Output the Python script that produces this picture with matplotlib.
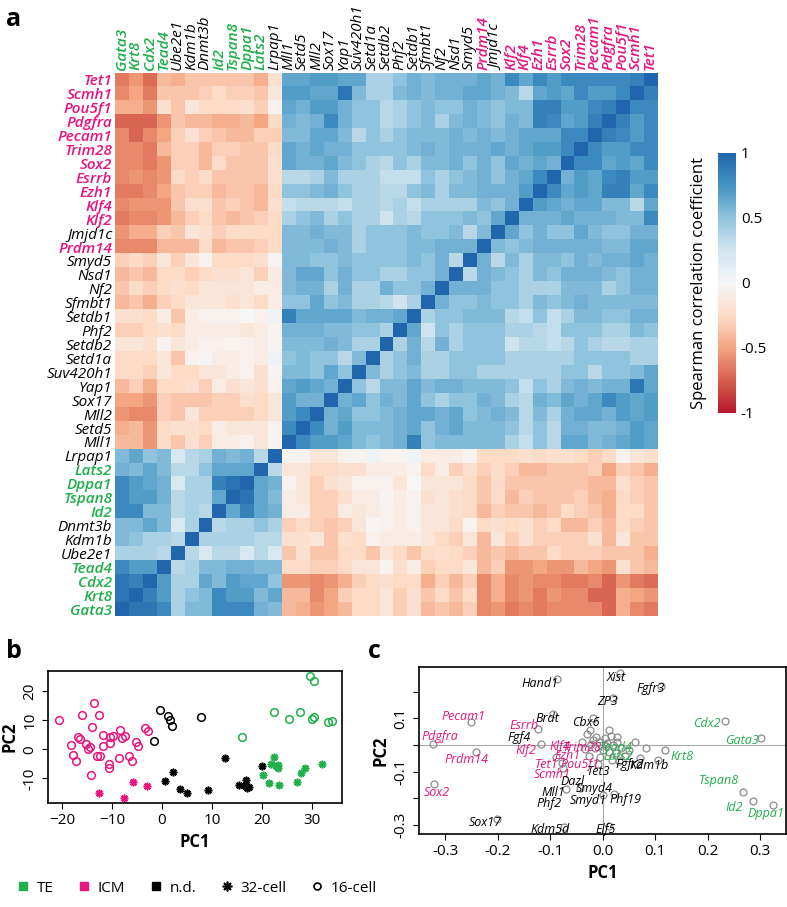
import numpy as np
import matplotlib.pyplot as plt
from matplotlib.lines import Line2D
from matplotlib.colors import LinearSegmentedColormap

plt.rcParams['font.family'] = ['Open Sans', 'DejaVu Sans']

GREEN = '#1faf4b'
PINK = '#e6157f'

# genes in column order (left to right); rows are the same genes bottom to top
genes = ['Gata3', 'Krt8', 'Cdx2', 'Tead4', 'Ube2e1', 'Kdm1b', 'Dnmt3b', 'Id2',
         'Tspan8', 'Dppa1', 'Lats2', 'Lrpap1', 'Mll1', 'Setd5', 'Mll2', 'Sox17',
         'Yap1', 'Suv420h1', 'Setd1a', 'Setdb2', 'Phf2', 'Setdb1', 'Sfmbt1', 'Nf2',
         'Nsd1', 'Smyd5', 'Prdm14', 'Jmjd1c', 'Klf2', 'Klf4', 'Ezh1', 'Esrrb',
         'Sox2', 'Trim28', 'Pecam1', 'Pdgfra', 'Pou5f1', 'Scmh1', 'Tet1']
te_genes = ['Gata3', 'Krt8', 'Cdx2', 'Tead4', 'Id2', 'Tspan8', 'Dppa1', 'Lats2']
icm_genes = ['Prdm14', 'Klf2', 'Klf4', 'Ezh1', 'Esrrb', 'Sox2', 'Trim28',
             'Pecam1', 'Pdgfra', 'Pou5f1', 'Scmh1', 'Tet1']

# correlations x100, TE group: gene i (Krt8..Lrpap1) vs genes before it
te_rows = [
    [90],
    [90, 85],
    [80, 70, 70],
    [40, 40, 40, 35],
    [55, 50, 40, 40, 35],
    [55, 55, 65, 55, 20, 40],
    [80, 80, 55, 55, 35, 40, 35],
    [80, 70, 70, 60, 35, 40, 40, 65],
    [80, 70, 65, 60, 20, 40, 40, 85, 92],
    [60, 55, 65, 55, 35, 35, 50, 65, 65, 65],
    [55, 65, 50, 55, 20, 35, 40, 60, 55, 60, 35],
]

# rows Tet1 .. Mll1 (top to bottom) vs Gata3 .. Lrpap1
cross_rows = [
    [-65, -55, -70, -40, -45, -35, -35, -35, -35, -35, -45, -20],
    [-60, -50, -65, -35, -35, -35, -30, -25, -30, -30, -35, -15],
    [-45, -45, -55, -20, -35, -15, -25, -25, -25, -20, -30, -5],
    [-72, -72, -72, -55, -35, -40, -40, -45, -45, -40, -50, -25],
    [-60, -72, -60, -50, -30, -20, -30, -35, -40, -40, -30, -30],
    [-60, -60, -65, -40, -30, -30, -40, -30, -30, -35, -35, -25],
    [-60, -60, -65, -55, -30, -30, -40, -25, -35, -35, -35, -20],
    [-60, -55, -60, -55, -25, -30, -25, -35, -35, -35, -35, -20],
    [-65, -65, -60, -50, -35, -30, -30, -40, -35, -35, -40, -25],
    [-60, -55, -55, -55, -35, -20, -20, -35, -30, -35, -40, -20],
    [-65, -60, -60, -55, -40, -30, -25, -35, -40, -35, -30, -25],
    [-55, -45, -45, -30, -35, -15, -20, -30, -25, -25, -25, -25],
    [-60, -60, -60, -40, -40, -40, -25, -40, -35, -35, -30, -25],
    [-30, -25, -30, -15, -30, -15, -5, -25, -25, -25, -20, -3],
    [-40, -35, -40, -25, -25, -30, -25, -20, -20, -15, -30, -10],
    [-35, -25, -30, -25, -20, -25, -15, -15, -15, -15, -10, -10],
    [-40, -35, -45, -30, -25, -15, -15, -15, -20, -15, -25, -10],
    [-20, -20, -25, -10, -35, -10, -5, -5, -5, 0, -5, 5],
    [-30, -30, -25, -20, -25, -10, -10, -10, -10, -15, -10, -3],
    [-15, -15, -20, -5, -15, -10, -5, -5, -3, -5, -10, -3],
    [-25, -25, -25, -15, -35, -5, -2, -10, -10, -5, -10, 5],
    [-25, -25, -30, -15, -25, -25, -15, -15, -10, -5, -20, -3],
    [-40, -30, -45, -25, -25, -20, -30, -10, -20, -15, -20, -5],
    [-50, -50, -55, -30, -35, -35, -35, -30, -30, -20, -25, -15],
    [-55, -60, -60, -30, -35, -15, -30, -30, -30, -30, -25, -15],
    [-45, -40, -55, -25, -20, -20, -25, -10, -15, -15, -15, -5],
    [-40, -40, -55, -25, -35, -20, -30, -10, -10, -5, -15, -3],
]

# rows Tet1 .. Setd5 (top to bottom) vs Mll1 .. gene left of the diagonal
icm_rows = [
    [65, 65, 70, 70, 65, 65, 40, 40, 50, 60, 55, 60, 60, 60, 65, 60, 80, 65, 80, 70, 80, 80, 80, 80, 80, 85],
    [70, 70, 65, 65, 90, 55, 40, 40, 55, 60, 55, 60, 60, 65, 65, 60, 55, 35, 65, 70, 65, 80, 70, 70, 80],
    [65, 60, 70, 70, 60, 50, 50, 35, 40, 50, 55, 50, 50, 60, 55, 50, 55, 55, 85, 85, 70, 70, 80, 85],
    [60, 55, 60, 80, 60, 50, 50, 35, 40, 50, 55, 40, 55, 60, 55, 50, 60, 55, 85, 80, 65, 70, 85],
    [55, 55, 65, 65, 55, 35, 50, 40, 50, 55, 55, 55, 60, 55, 60, 55, 60, 65, 65, 65, 80, 80],
    [65, 60, 65, 60, 60, 50, 50, 50, 50, 55, 60, 55, 60, 60, 60, 65, 60, 65, 70, 70, 80],
    [65, 60, 60, 65, 55, 50, 40, 35, 50, 40, 55, 55, 60, 50, 60, 50, 65, 60, 65, 60],
    [35, 35, 40, 55, 40, 40, 40, 30, 30, 30, 50, 40, 50, 55, 60, 50, 60, 65, 80],
    [50, 50, 55, 60, 50, 40, 40, 35, 35, 50, 55, 40, 55, 55, 60, 60, 60, 70],
    [30, 35, 35, 35, 30, 40, 40, 35, 40, 30, 40, 40, 40, 40, 55, 50, 60],
    [40, 50, 55, 40, 50, 40, 40, 25, 40, 35, 50, 50, 50, 55, 50, 65],
    [55, 55, 60, 55, 55, 40, 50, 50, 50, 55, 50, 50, 55, 35, 55],
    [55, 55, 55, 60, 55, 40, 50, 50, 50, 55, 55, 60, 60, 60],
    [55, 55, 50, 50, 55, 50, 50, 50, 50, 55, 50, 60, 35],
    [55, 65, 65, 50, 60, 50, 50, 40, 40, 50, 50, 60],
    [55, 60, 60, 40, 60, 40, 40, 60, 50, 50, 60],
    [50, 50, 65, 50, 55, 40, 40, 35, 25, 40],
    [85, 65, 65, 65, 65, 55, 60, 60, 65],
    [60, 60, 60, 55, 55, 50, 50, 40],
    [55, 55, 55, 60, 55, 40, 40],
    [50, 55, 50, 50, 35, 55],
    [55, 55, 50, 65, 50],
    [65, 70, 65, 60],
    [70, 60, 60],
    [70, 80],
    [80],
]

# panel b: PCA of single cells
icm16_x = [-20.6, -13.7, -16, -12.6, -14.1, -16.9, -16.5, -18.3, -15.3, -14.5, -14.8,
           -17.8, -17.3, -13, -12.5, -11.8, -11.9, -10.5, -9.8, -10.5, -8.5, -8.1, -7.5,
           -8.7, -10.7, -10.7, -6.6, -6.1, -14.3, -3.5, -2.9, -5.2, -4.9]
icm16_y = [10.1, 15.8, 12, 11.7, 7.7, 4.3, 3.4, 1.6, 1.7, 0.9, 0, -1.9, -4, -2.3,
           -2.3, 5.1, 1.1, 4.3, 4.6, 2.1, 6.5, 4, 4.5, -3.1, -5.1, -6.5, -2.3, -3.9,
           -8.8, 7.4, 6.2, 2.6, 1.1]
icm32_x = [-12.7, -7.6, -5.9, -3.1]
icm32_y = [-15.1, -16.9, -11.1, -12.8]
nd16_x = [-0.5, 1.1, 1.5, 1.9, 7.8, -1.7]
nd16_y = [13.6, 11.5, 10.1, 8.1, 11.2, 3.0]
nd32_x = [12.5, 2.1, 0.5, 3.5, 4.9, 9.1, 15.3, 16.7, 16.5, 17.0, 17.4, 19.9]
nd32_y = [-2.9, -7.9, -11.0, -13.7, -14.9, -14.2, -12.2, -10.5, -12.8, -13.4, -13.1, -5.7]
te16_x = [29.5, 30.4, 22.3, 25.3, 27.5, 29.9, 30.3, 33.1, 33.9, 15.9]
te16_y = [25.3, 23.5, 12.7, 10.6, 12.9, 10.6, 11.0, 9.3, 9.8, 4.3]
te32_x = [22.3, 21.7, 23.1, 23.2, 20.2, 21.3, 23.3, 26.9, 27.7, 28.5, 31.9, 22.7]
te32_y = [-2.7, -5.0, -5.4, -6.3, -9.0, -11.7, -12.2, -11.1, -8.2, -6.5, -5.0, -5.9]

# panel c: gene loadings
load_x = [-0.087, 0.033, 0.11, 0.019, -0.095, -0.018, -0.25, -0.123, -0.324, -0.118,
          -0.241, -0.321, -0.202, -0.089, -0.078, -0.076, -0.070, -0.073, 0.021, 0.011,
          0.233, 0.302, 0.119, 0.106, 0.268, 0.286, 0.324, 0.070, 0.082, 0.061,
          -0.024, 0.011, 0.027, 0.001, -0.043, -0.030, -0.012, 0.004, 0.015, 0.028,
          -0.040, -0.022, -0.008, 0.009, 0.020, 0.035, -0.034, -0.015, 0.000, 0.012,
          0.026, 0.042, -0.026, -0.005, 0.018, 0.030, -0.018, 0.006, 0.050, -0.010]
load_y = [0.246, 0.269, 0.221, 0.177, 0.116, 0.100, 0.085, 0.059, 0.004, 0.003,
          -0.027, -0.147, -0.277, -0.044, -0.069, -0.085, -0.165, -0.309, -0.184, -0.304,
          0.091, 0.027, -0.019, -0.056, -0.175, -0.212, -0.225, -0.050, -0.012, 0.012,
          0.056, 0.054, 0.031, -0.188, -0.161, 0.040, 0.030, 0.025, 0.035, 0.012,
          0.010, 0.005, 0.012, 0.008, 0.000, -0.010, -0.015, -0.012, -0.020, -0.025,
          -0.030, -0.040, -0.040, -0.045, -0.055, -0.060, 0.020, -0.005, -0.020, -0.070]
lab_names = ['Hand1', 'Pecam1', 'Pdgfra', 'Prdm14', 'Sox2', 'Sox17', 'Brdt', 'Esrrb',
             'Fgf4', 'Klf2', 'Klf4', 'Ezh1', 'Tet1', 'Pou5f1', 'Scmh1', 'Dazl', 'Mll1',
             'Phf2', 'Kdm5d', 'Smyd4', 'Smyd1', 'Phf19', 'Elf5', 'Tet3', 'Trim28',
             'Tead4', 'Lats2', 'Fgfr2', 'Kdm1b', 'Cbx6', 'Xist', 'Fgfr3', 'ZP3',
             'Cdx2', 'Gata3', 'Krt8', 'Tspan8', 'Id2', 'Dppa1']
lab_x = [-0.119, -0.265, -0.31, -0.26, -0.316, -0.224, -0.105, -0.15, -0.16, -0.146,
         -0.081, -0.068, -0.106, -0.043, -0.097, -0.058, -0.094, -0.103, -0.1, -0.017,
         -0.027, 0.043, 0.005, -0.008, -0.039, 0.024, 0.03, 0.052, 0.089, -0.033,
         0.026, 0.092, 0.008, 0.198, 0.265, 0.151, 0.221, 0.251, 0.31]
lab_y = [0.229, 0.106, 0.031, -0.056, -0.177, -0.291, 0.1, 0.071, 0.027, -0.021,
         -0.006, -0.041, -0.075, -0.075, -0.112, -0.138, -0.179, -0.219, -0.316, -0.162,
         -0.209, -0.206, -0.319, -0.1, -0.009, -0.009, -0.044, -0.075, -0.079, 0.085,
         0.251, 0.211, 0.162, 0.079, 0.016, -0.044, -0.134, -0.234, -0.256]

# ---- correlation matrix ----
n = len(genes)
M = np.eye(n)
for i, row in enumerate(te_rows):
    M[i + 1, :i + 1] = np.array(row) / 100
for r, row in enumerate(cross_rows):
    M[n - 1 - r, :12] = np.array(row) / 100
for r, row in enumerate(icm_rows):
    M[n - 1 - r, 12:12 + len(row)] = np.array(row) / 100
M = np.tril(M) + np.tril(M, -1).T

# 9-class RdBu (brewer), without the darkest ends
cmap = LinearSegmentedColormap.from_list(
    'rdbu9', ['#b2182b', '#d6604d', '#f4a582', '#fddbc7', '#f7f7f7',
              '#d1e5f0', '#92c5de', '#4393c3', '#2166ac'])


def gene_color(g):
    if g in te_genes:
        return GREEN
    if g in icm_genes:
        return PINK
    return 'black'


fig = plt.figure(figsize=(7.87, 9.07), dpi=100)

ax = fig.add_axes([0.1461, 0.3208, 0.6887, 0.5987])
im = ax.imshow(M[::-1, :], cmap=cmap, vmin=-1, vmax=1, aspect='auto',
               interpolation='nearest')
ax.set_xticks(range(n))
ax.set_xticklabels(genes, rotation=90)
ax.set_yticks(range(n))
ax.set_yticklabels(genes[::-1])
ax.xaxis.tick_top()
ax.tick_params(length=0, pad=2, labelsize=11)
for lbl in ax.get_xticklabels() + ax.get_yticklabels():
    c = gene_color(lbl.get_text())
    lbl.set_color(c)
    lbl.set_style('italic')
    if c != 'black':
        lbl.set_fontweight('semibold')
for s in ax.spines.values():
    s.set_visible(False)

cax = fig.add_axes([0.9123, 0.5447, 0.0229, 0.2867])
cb = fig.colorbar(im, cax=cax, ticks=[-1, -0.5, 0, 0.5, 1])
cb.ax.set_yticklabels(['-1', '-0.5', '0', '0.5', '1'])
cb.outline.set_visible(False)
cax.tick_params(length=0, labelsize=11)
cax.set_ylabel('Spearman correlation coefficient', fontsize=12, labelpad=8)
cax.yaxis.set_label_position('left')

# ---- panel b ----
axb = fig.add_axes([0.061, 0.1147, 0.3736, 0.1455])
mk = dict(linestyle='none', markersize=5.5)
axb.plot(icm16_x, icm16_y, marker='o', mfc='none', mec=PINK, mew=1.1, **mk)
axb.plot(nd16_x, nd16_y, marker='o', mfc='none', mec='black', mew=1.1, **mk)
axb.plot(te16_x, te16_y, marker='o', mfc='none', mec=GREEN, mew=1.1, **mk)
axb.plot(icm32_x, icm32_y, marker=(8, 2, 0), color=PINK, mew=1.2, **mk)
axb.plot(nd32_x, nd32_y, marker=(8, 2, 0), color='black', mew=1.2, **mk)
axb.plot(te32_x, te32_y, marker=(8, 2, 0), color=GREEN, mew=1.2, **mk)
axb.set_xlim(-22.8, 36)
axb.set_ylim(-18.5, 27)
axb.set_xticks([-20, -10, 0, 10, 20, 30])
axb.set_yticks([-10, 0, 10, 20])
axb.set_yticklabels(['-10', '0', '10', '20'], rotation=90, va='center')
axb.tick_params(labelsize=11, length=4)
axb.set_xlabel('PC1', fontsize=12, fontweight='bold', labelpad=3)
axb.set_ylabel('PC2', fontsize=12, fontweight='bold', labelpad=3)
for s in axb.spines.values():
    s.set_linewidth(1.2)

# ---- panel c ----
axc = fig.add_axes([0.5324, 0.0805, 0.4663, 0.1841])
axc.axhline(0, color='#aaaaaa', lw=0.8, zorder=0)
axc.axvline(0, color='#aaaaaa', lw=0.8, zorder=0)
axc.plot(load_x, load_y, linestyle='none', marker='o', mfc='none', mec='#8c8c8c',
         mew=0.9, markersize=5)
for name, x, y in zip(lab_names, lab_x, lab_y):
    axc.text(x, y, name, fontsize=9, style='italic', color=gene_color(name),
             ha='center', va='center')
axc.set_xlim(-0.35, 0.349)
axc.set_ylim(-0.334, 0.292)
axc.set_xticks([-0.3, -0.2, -0.1, 0.0, 0.1, 0.2, 0.3])
axc.set_xticklabels(['-0.3', '-0.2', '-0.1', '0.0', '0.1', '0.2', '0.3'])
axc.set_yticks([-0.3, -0.2, -0.1, 0.0, 0.1, 0.2])
axc.set_yticklabels(['-0.3', '', '-0.1', '', '0.1', ''], rotation=90, va='center')
axc.tick_params(labelsize=11, length=4)
axc.set_xlabel('PC1', fontsize=12, fontweight='bold', labelpad=3)
axc.set_ylabel('PC2', fontsize=12, fontweight='bold', labelpad=3)
for s in axc.spines.values():
    s.set_linewidth(1.2)

# panel letters
fig.text(0.008, 0.978, 'a', fontsize=18, fontweight='bold', va='center')
fig.text(0.008, 0.282, 'b', fontsize=18, fontweight='bold', va='center')
fig.text(0.468, 0.282, 'c', fontsize=18, fontweight='bold', va='center')

# legend
handles = [
    Line2D([], [], linestyle='none', marker='s', color=GREEN, markersize=6),
    Line2D([], [], linestyle='none', marker='s', color=PINK, markersize=6),
    Line2D([], [], linestyle='none', marker='s', color='black', markersize=6),
    Line2D([], [], linestyle='none', marker=(8, 2, 0), color='black', markersize=7, mew=1.2),
    Line2D([], [], linestyle='none', marker='o', mfc='none', mec='black', markersize=5, mew=1.2),
]
fig.legend(handles, ['TE', 'ICM', 'n.d.', '32-cell', '16-cell'], loc='center left',
           bbox_to_anchor=(0.0, 1 - 888 / 907), ncol=5, frameon=False, fontsize=11,
           handletextpad=0.3, columnspacing=1.4, handlelength=1.2)

fig.savefig('out.png', dpi=100)
